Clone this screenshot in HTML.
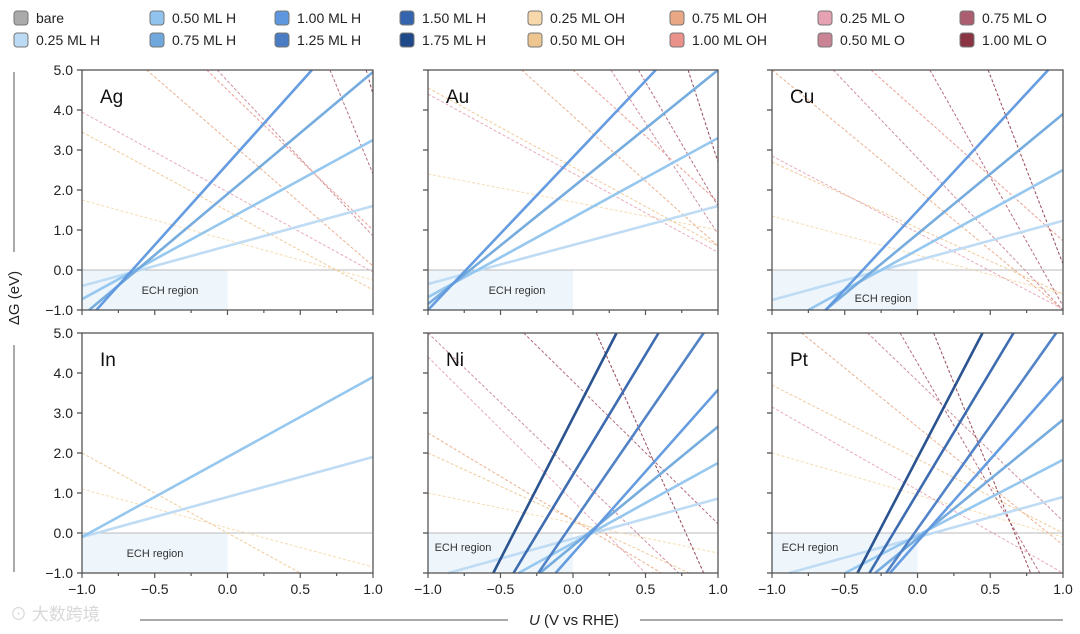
<!DOCTYPE html>
<html><head><meta charset="utf-8"><style>
html,body{margin:0;padding:0;background:#fff;overflow:hidden;width:1080px;height:634px;font-family:"Liberation Sans","Noto Sans CJK SC",sans-serif;}
svg{display:block;}
svg text{font-family:"Liberation Sans","Noto Sans CJK SC",sans-serif;}
</style></head><body>
<svg id="c" width="1080" height="634" xmlns="http://www.w3.org/2000/svg"></svg>
<script>
const panelNames = ['Ag','Au','Cu','In','Ni','Pt'];
const seriesNames = ['bare','0.25 ML H','0.50 ML H','0.75 ML H','1.00 ML H','1.25 ML H','1.50 ML H','1.75 ML H','0.25 ML OH','0.50 ML OH','0.75 ML OH','1.00 ML OH','0.25 ML O','0.50 ML O','0.75 ML O','1.00 ML O'];
const seriesColors = ['#aaaaaa','#bcdaf3','#90c4ee','#6fa8dc','#5e97de','#4a7cc4','#3464ad','#1f4a8a','#f6d8aa','#eec48f','#e9a783','#ea928a','#e6a1b2','#c98394','#ad5d70','#8a3444'];
const yTicks = [5.0,4.0,3.0,2.0,1.0,0.0,-1.0];
const xTicks = [-1.0,-0.5,0.0,0.5,1.0];
// each line: [seriesIndex, dG at U=-1, dG at U=1]
const agLines = [[8,1.75,-0.25],[9,3.45,-0.5],[12,3.95,-0.05],[10,6.4,0.1],[13,8.6,0.85],[11,8.0,1.0],[14,20,2.4],[15,30,4.4],[1,-0.4,1.6],[2,-0.73,3.25],[3,-1.15,4.95],[4,-1.4,6.7]];
const auLines = [[8,2.4,1.0],[9,4.55,0.6],[12,4.4,0.44],[10,7.1,0.6],[11,8.3,1.7],[13,12,0.9],[14,14,1.6],[15,25,2.7],[1,-0.35,1.6],[2,-0.68,3.3],[3,-0.85,5.0],[4,-1.0,6.64]];
const cuLines = [[8,1.35,-0.6],[9,2.7,-0.6],[12,2.85,-0.98],[10,5.0,-1.0],[13,6.6,-1.0],[11,7.2,0.73],[14,12,-0.9],[15,19,0.15],[1,-0.75,1.23],[2,-1.5,2.5],[3,-2.1,3.9],[4,-2.45,5.4]];
const inLines = [[8,1.1,-0.85],[9,2.0,-2.0],[1,-0.1,1.9],[2,-0.1,3.9]];
const niLines = [[8,1.0,-0.5],[9,2.0,-1.33],[10,2.5,-1.85],[12,4.4,-2.8],[13,5.0,-1.94],[14,7.35,0.23],[15,14.4,-1.8],[1,-1.14,0.86],[2,-2.25,1.75],[3,-3.3,2.66],[4,-4.6,3.58],[5,-5.0,5.52],[6,-4.54,7.46],[7,-4.18,9.94]];
const ptLines = [[8,2.0,-0.1],[9,3.7,0.0],[12,3.15,-1.0],[10,5.6,-0.3],[13,7.3,0.3],[14,10.5,-2.0],[15,15,-3],[1,-1.12,0.9],[2,-1.95,1.83],[3,-3.1,2.83],[4,-4.34,3.9],[5,-5.03,5.24],[6,-5.06,7.06],[7,-5.1,8.86]];
const panelLines = [agLines,auLines,cuLines,inLines,niLines,ptLines];

const NS='http://www.w3.org/2000/svg';
const svg=document.getElementById('c');
function mk(tag,attrs,parent){const e=document.createElementNS(NS,tag);for(const k in attrs)e.setAttribute(k,attrs[k]);(parent||svg).appendChild(e);return e;}
// clip a line (U=-1..1) to dG range [-1,5]
function clipSeg(a,b){
  let u0=-1,u1=1;const m=(b-a)/2,f=u=>a+(u+1)*m;
  if(m!==0){
    const uLo=-1+(-1-a)/m, uHi=-1+(5-a)/m;
    const lo=Math.min(uLo,uHi), hi=Math.max(uLo,uHi);
    u0=Math.max(u0,lo);u1=Math.min(u1,hi);
  }
  if(u0>=u1)return null;
  return [u0,f(u0),u1,f(u1)];
}
const cols=[[82,373],[428,718],[772,1063]];
const rows=[[70,310],[333,573]];
const echPos=[[170,290],[517,290],[883,298],[155,553],[463,547],[810,547]];
const legX=[14,150,275,400,528,670,818,960];
seriesNames.forEach((n,i)=>{
  const cx=legX[Math.floor(i/2)], cy=i%2?40:18;
  const g=mk('g',{});
  
  
  mk('rect',{x:cx,y:cy-7,width:14,height:14,rx:3,fill:seriesColors[i],stroke:'#777','stroke-width':1},g);
  const t=mk('text',{x:cx+22,y:cy+5,'font-size':14,fill:'#222'},g);t.textContent=n;
});
panelNames.forEach((name,p)=>{
  const [x0,x1]=cols[p%3],[y0,y1]=rows[Math.floor(p/3)];
  const sx=u=>x0+(u+1)/2*(x1-x0), sy=v=>y1-(v+1)/6*(y1-y0);
  const g=mk('g',{});
  
  
  const ech=mk('rect',{x:sx(-1),y:sy(0),width:sx(0)-sx(-1),height:sy(-1)-sy(0),fill:'#eef6fc'},g);
  
  
  const et=mk('text',{x:echPos[p][0],y:echPos[p][1]+4,'font-size':11,fill:'#333','text-anchor':'middle'},g);et.textContent='ECH region';
  mk('line',{x1:x0,x2:x1,y1:sy(0),y2:sy(0),stroke:'#bbb','stroke-width':1},g);
  panelLines[p].forEach(l=>{
    const s=l[0],isH=s>=1&&s<=7;
    const c=clipSeg(l[1],l[2]);if(!c)return;
    const ln=mk('line',{x1:sx(c[0]),y1:sy(c[1]),x2:sx(c[2]),y2:sy(c[3]),stroke:seriesColors[s],
      'stroke-width':isH?2.6:1,'stroke-dasharray':isH?'none':'3,2','stroke-opacity':isH?0.95:0.9},g);
    
    
  });
  mk('rect',{x:x0,y:y0,width:x1-x0,height:y1-y0,fill:'none',stroke:'#555','stroke-width':1.3},g);
  yTicks.forEach(v=>{mk('line',{x1:x0-5,x2:x0,y1:sy(v),y2:sy(v),stroke:'#555','stroke-width':1.3},g);
    if(p%3===0){const t=mk('text',{x:x0-9,y:sy(v)+5,'font-size':14,fill:'#222','text-anchor':'end'},g);t.textContent=v.toFixed(1).replace('-','−');}});
  for(let u=-1;u<=1.001;u+=0.25){const major=Math.abs(u*2-Math.round(u*2))<1e-6;
    mk('line',{x1:sx(u),x2:sx(u),y1:y1,y2:y1+(major?5:3),stroke:'#555','stroke-width':1.2},g);}
  if(p>=3)xTicks.forEach(u=>{const t=mk('text',{x:sx(u),y:y1+21,'font-size':14,fill:'#222','text-anchor':'middle'},g);t.textContent=u.toFixed(1).replace('-','−');});
  const pt=mk('text',{x:x0+18,y:y0+33,'font-size':19,fill:'#111'},g);pt.textContent=name;
  
  
});
mk('line',{x1:14,x2:14,y1:72,y2:252,stroke:'#555','stroke-width':1});
mk('line',{x1:14,x2:14,y1:345,y2:572,stroke:'#555','stroke-width':1});
const yt=mk('text',{x:0,y:0,transform:'translate(19,298) rotate(-90)','font-size':15,fill:'#222','text-anchor':'middle'});yt.textContent='ΔG (eV)';


mk('line',{x1:140,x2:508,y1:620,y2:620,stroke:'#555','stroke-width':1});
mk('line',{x1:640,x2:1063,y1:620,y2:620,stroke:'#555','stroke-width':1});
const xt=mk('text',{x:574,y:625,'font-size':15,fill:'#222','text-anchor':'middle'});
xt.innerHTML='<tspan font-style="italic">U</tspan> (V vs RHE)';


const wm=mk('text',{x:10,y:620,'font-size':17,fill:'#d8d8d8'});wm.textContent='\u2299 大数跨境';


</script>
</body></html>
